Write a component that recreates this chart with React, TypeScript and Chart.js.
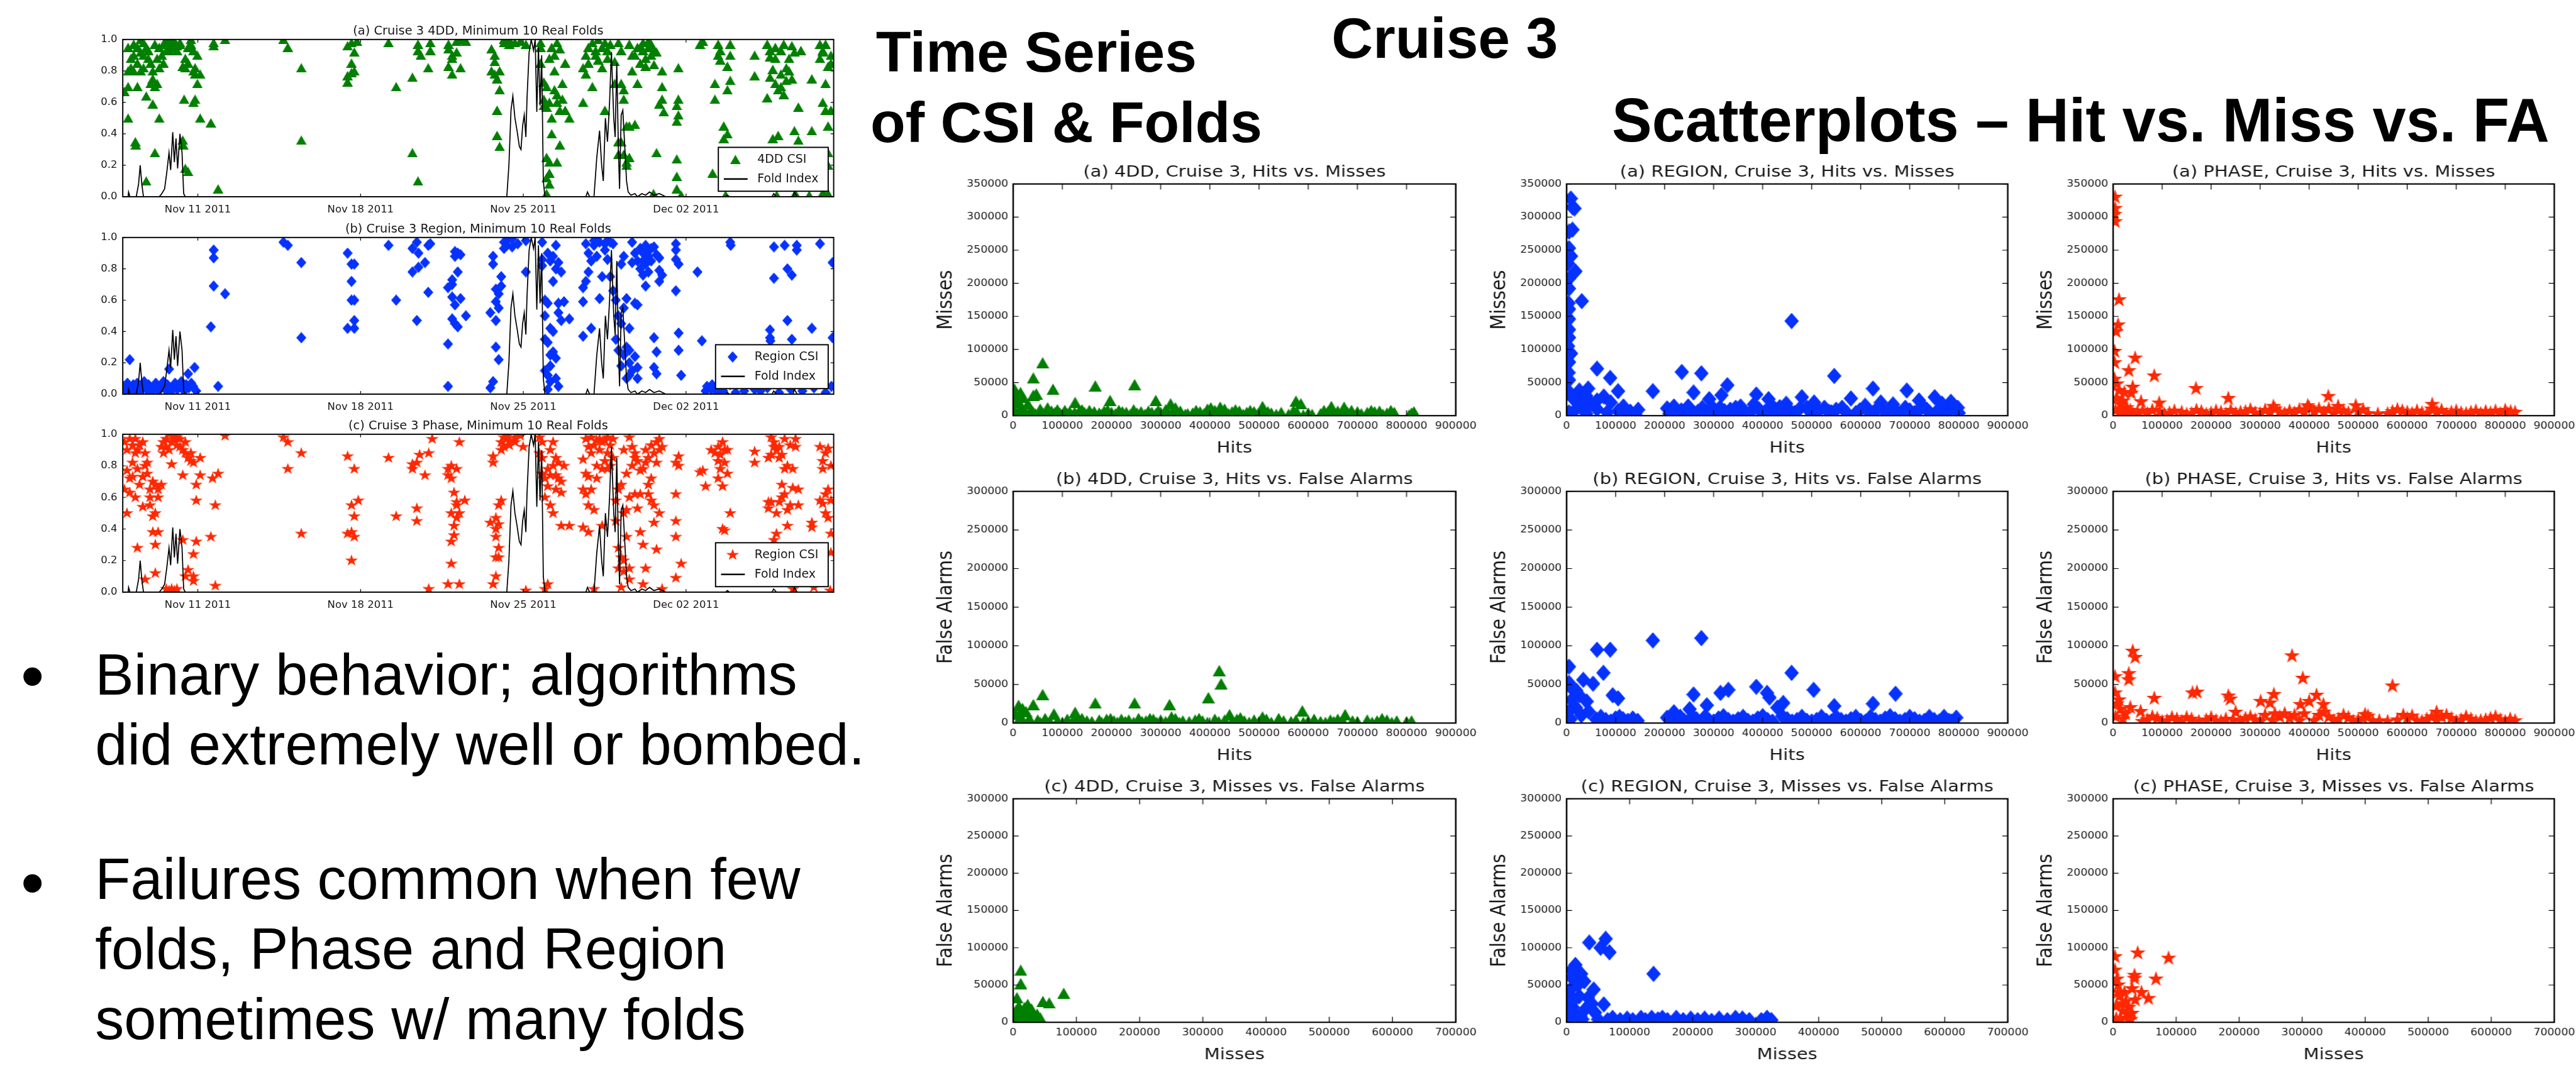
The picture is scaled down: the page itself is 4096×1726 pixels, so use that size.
import React, { useEffect, useRef } from "react";
import { Chart, registerables } from "chart.js";
Chart.register(...registerables);

const K = 4096 / 4223;
const FONT = '"DejaVu Sans", sans-serif';
const SLIDE_FONT = '"Liberation Sans", Arial, sans-serif';
const TEXT = "#161616";

// ---------------- data: time series ----------------
const tsTickDays = [11, 18, 25, 32];
const tsTickLabels = ["Nov 11 2011", "Nov 18 2011", "Nov 25 2011", "Dec 02 2011"];
const tsDayMin = 7.77;
const tsDayMax = 38.35;
const csiTicks = [0, 0.2, 0.4, 0.6, 0.8, 1.0];

const foldIndex: [number, number][] = [
  [7.77,0],[8.0,0],[8.02,0.03],[8.08,0],[8.35,0],[8.45,0.08],[8.52,0.2],[8.59,0.08],[8.66,0],[9.34,0],[9.45,0.02],[9.57,0.05],[9.66,0.15],[9.76,0.28],[9.83,0.17],[9.92,0.41],[9.99,0.22],[10.06,0.37],[10.13,0.18],[10.23,0.4],[10.32,0.28],[10.39,0.02],[10.46,0],
  [24.29,0],[24.38,0.2],[24.47,0.55],[24.55,0.64],[24.64,0.5],[24.73,0.42],[24.83,0.32],[24.9,0.3],[24.97,0.45],[25.04,0.52],[25.11,0.38],[25.16,0.63],[25.25,0.92],[25.34,1.0],[25.44,0.93],[25.51,1.0],[25.58,0.54],[25.65,0.95],[25.72,0.58],[25.79,0.9],[25.86,0.1],[25.93,0],
  [27.69,0],[27.76,0.03],[27.85,0],[28.04,0],[28.16,0.25],[28.28,0.42],[28.37,0.2],[28.44,0.1],[28.53,0.5],[28.62,0.35],[28.71,0.6],[28.79,0.92],[28.89,0.5],[28.95,0.38],[29.02,0.85],[29.09,0.3],[29.14,0.05],[29.21,0.52],[29.28,0.55],[29.37,0.3],[29.44,0.1],[29.51,0.03],[29.63,0.01],[29.8,0.02],[29.91,0],[30.1,0.02],[30.26,0.01],[30.43,0.03],[30.62,0.01],[30.85,0.02],[31.13,0],
  [33.7,0],[33.78,0.01],[33.86,0],[35.7,0],[35.77,0.02],[35.89,0],[36.6,0],[36.66,0.03],[36.78,0],[38.35,0],
];

const csi4dd: [number, number][] = [
  [7.84,0.67],[8.0,0.95],[8.0,0.8],[8.0,0.7],[8.0,0.5],[8.12,0.88],[8.12,0.82],[8.24,0.97],[8.24,0.9],[8.24,0.8],[8.31,0.35],[8.33,0.33],[8.4,0.7],[8.4,0.85],[8.4,0.95],[8.54,0.92],[8.54,0.8],[8.54,1.0],[8.66,0.9],[8.66,0.98],[8.66,0.82],[8.78,0.1],[8.78,0.64],[8.78,0.95],[8.87,0.88],[8.87,0.93],[8.97,0.85],[8.97,0.72],[9.06,0.59],[9.06,0.75],[9.06,0.8],[9.15,0.28],[9.15,0.97],[9.15,0.7],[9.25,0.72],[9.25,0.88],[9.34,0.5],[9.34,0.95],[9.34,0.82],[9.45,0.9],[9.52,0.97],[9.52,0.85],[9.64,0.93],[9.64,1.0],[9.76,0.98],[9.76,0.93],[9.87,0.96],[9.87,1.0],[9.99,0.95],[9.99,0.99],[10.1,0.96],[10.1,0.93],[10.23,0.97],[10.23,0.98],[10.35,0.83],[10.35,0.36],[10.37,0.33],[10.41,0.62],[10.46,0.88],[10.46,0.82],[10.46,0.18],[10.58,0.95],[10.58,0.85],[10.58,0.16],[10.7,0.97],[10.7,1.0],[10.81,0.8],[10.81,0.6],[10.81,0.93],[10.88,0.78],[10.88,0.82],[10.88,0.62],[10.98,0.72],[10.98,0.9],[11.1,0.5],[11.1,0.78],[11.56,0.47],[11.68,0.96],[11.68,0.98],[11.87,0.05],[12.17,1.0],
  [14.68,1.0],[14.87,0.95],[15.45,0.82],[15.45,0.36],[17.44,0.96],[17.44,0.73],[17.44,0.77],[17.61,0.98],[17.61,0.79],[17.61,0.85],[17.73,0.8],[17.73,0.92],[17.84,0.99],[19.2,0.98],[19.53,0.7],[20.23,0.76],[20.23,0.28],[20.47,0.97],[20.47,0.93],[20.47,0.1],[20.59,0.9],[20.91,0.82],[21.0,0.98],[21.0,0.93],[21.78,0.97],[21.78,0.83],[21.78,0.94],[21.94,0.78],[21.94,0.88],[21.94,0.9],[22.13,0.92],[22.13,0.99],[22.3,0.82],[22.3,1.0],[22.53,0.99],
  [23.63,0.8],[23.63,0.94],[23.77,0.78],[23.77,0.9],[23.77,0.86],[23.87,0.75],[23.87,0.55],[23.87,0.39],[23.98,0.8],[23.98,0.68],[23.98,0.32],[24.17,0.98],[24.17,1.0],[24.4,0.97],[24.4,1.0],[24.64,0.98],[24.87,0.99],[25.11,0.97],[25.74,0.98],[25.74,0.95],[25.74,0.85],[25.88,0.73],[25.88,0.62],[25.88,0.58],[26.0,0.57],[26.0,0.7],[26.0,0.25],[26.0,0.12],[26.0,0.02],[26.12,0.88],[26.12,0.6],[26.12,0.22],[26.12,0.08],[26.12,0.15],[26.22,0.95],[26.22,0.5],[26.22,0.4],[26.34,0.9],[26.34,0.68],[26.34,0.8],[26.45,0.98],[26.45,0.65],[26.45,0.22],[26.45,0.6],[26.57,0.94],[26.57,0.33],[26.57,0.55],[26.68,0.72],[26.68,0.62],[26.8,0.85],[26.8,0.55],[26.98,0.5],
  [27.57,0.6],[27.57,0.82],[27.69,0.9],[27.69,0.78],[27.8,0.95],[27.8,0.85],[27.97,0.98],[27.97,0.7],[28.11,0.9],[28.11,0.93],[28.22,0.87],[28.22,1.0],[28.39,0.95],[28.39,0.82],[28.51,0.55],[28.51,0.98],[28.62,0.93],[28.62,0.88],[28.74,0.97],[28.93,0.86],[28.93,0.72],[29.09,0.27],[29.09,0.35],[29.09,0.98],[29.21,0.72],[29.21,0.35],[29.21,0.93],[29.32,0.68],[29.32,0.62],[29.32,0.27],[29.44,0.45],[29.44,0.2],[29.44,0.22],[29.56,0.97],[29.56,0.45],[29.56,0.25],[29.68,0.9],[29.68,0.8],[29.8,0.46],[29.8,0.9],[29.91,0.72],[29.91,0.95],[30.03,0.95],[30.03,0.85],[30.15,0.98],[30.15,0.93],[30.26,0.83],[30.26,0.88],[30.38,0.95],[30.38,0.99],[30.5,0.97],[30.5,0.9],[30.62,0.93],[30.62,0.84],[30.73,0.28],[30.73,0.92],[30.85,0.59],[30.97,0.7],[30.97,0.62],[30.97,0.8],[31.04,0.54],[31.6,0.58],[31.6,0.48],[31.6,0.24],[31.6,0.13],[31.6,0.05],[31.67,0.62],[31.67,0.52],[31.67,0.82],[31.79,0.01],
  [32.6,0.97],[32.72,0.99],[33.14,0.15],[33.24,0.62],[33.24,0.72],[33.38,0.97],[33.38,0.9],[33.47,0.93],[33.47,0.87],[33.62,0.45],[33.62,0.37],[33.78,0.68],[33.78,0.4],[33.78,0.83],[33.9,0.9],[33.9,0.97],[33.9,0.74],[34.95,0.77],[34.95,0.9],[35.49,0.97],[35.49,0.63],[35.61,0.93],[35.61,0.89],[35.61,0.76],[35.73,0.81],[35.73,0.37],[35.84,0.88],[35.84,0.95],[35.84,0.72],[35.96,0.68],[35.96,0.39],[36.08,0.93],[36.08,0.78],[36.08,0.7],[36.2,0.97],[36.2,0.65],[36.31,0.82],[36.31,0.74],[36.43,0.88],[36.43,0.8],[36.55,0.96],[36.55,0.75],[36.66,0.92],[36.66,0.42],[36.83,0.36],[36.83,0.57],[36.94,0.93],[37.41,0.75],[37.41,0.42],[37.76,0.97],[37.76,0.88],[37.88,0.92],[37.88,0.93],[37.88,0.6],[38.0,0.72],[38.0,0.55],[38.0,0.97],[38.11,0.45],[38.11,0.83],[38.11,0.28],[38.11,0.2],[38.11,0.02],[38.23,0.9],[38.23,0.55],[38.23,0.85],
  [35.9,0.01],[36.7,0.02],[37.3,0.01],[37.9,0.03],[33.7,0.01],[30.6,0.02],
];

const csiRegion: [number, number][] = [
  [7.82,0.05],[7.9,0.02],[7.97,0.07],[8.07,0.22],[8.08,0.04],[8.16,0.01],[8.22,0.06],[8.31,0.03],[8.39,0.07],[8.5,0.02],[8.58,0.05],[8.69,0.08],[8.78,0.03],[8.88,0.06],[8.98,0.01],[9.1,0.04],[9.19,0.07],[9.31,0.02],[9.4,0.05],[9.52,0.08],[9.6,0.03],[9.69,0.06],[9.76,0.16],[9.81,0.01],[9.9,0.04],[10.02,0.07],[10.11,0.03],[10.2,0.05],[10.29,0.08],[10.41,0.02],[10.5,0.06],[10.58,0.13],[10.61,0.04],[10.72,0.07],[10.8,0.05],[10.86,0.17],[10.93,0.02],
  [11.56,0.43],[11.68,0.87],[11.68,0.92],[11.68,0.69],[11.87,0.05],[12.17,0.64],[14.68,0.97],[14.87,0.95],[15.45,0.84],[15.45,0.36],[17.44,0.9],[17.44,0.42],[17.61,0.72],[17.61,0.6],[17.61,0.83],[17.73,0.6],[17.73,0.47],[17.73,0.42],[17.73,0.83],[19.2,0.95],[19.53,0.6],[20.23,0.93],[20.23,0.78],[20.42,0.47],[20.42,0.97],[20.49,0.9],[20.49,0.81],[20.77,0.84],[20.91,0.65],[20.91,0.95],[21.0,0.96],[21.76,0.32],[21.76,0.05],[21.76,0.68],[21.94,0.7],[21.94,0.73],[21.94,0.48],[21.94,0.62],[22.06,0.91],[22.06,0.57],[22.06,0.45],[22.06,0.88],[22.18,0.78],[22.18,0.43],[22.18,0.9],[22.3,0.61],[22.3,0.89],[22.53,0.5],
  [23.58,0.52],[23.58,0.04],[23.7,0.83],[23.7,0.88],[23.7,0.08],[23.82,0.47],[23.82,0.67],[23.82,0.59],[23.82,0.3],[23.94,0.64],[23.94,0.55],[23.94,0.22],[24.05,0.75],[24.05,0.69],[24.17,0.97],[24.17,0.93],[24.29,0.98],[24.29,0.95],[24.52,0.99],[24.52,0.94],[24.76,0.96],[25.11,0.78],[25.11,0.98],[25.81,0.97],[25.81,0.86],[25.81,0.82],[25.93,0.6],[25.93,0.5],[25.93,0.35],[25.93,0.15],[26.05,0.9],[26.05,0.58],[26.05,0.33],[26.05,0.12],[26.05,0.03],[26.16,0.85],[26.16,0.42],[26.16,0.25],[26.16,0.18],[26.16,0.08],[26.28,0.88],[26.28,0.72],[26.28,0.4],[26.28,0.27],[26.4,0.95],[26.4,0.8],[26.4,0.23],[26.4,0.1],[26.51,0.84],[26.51,0.58],[26.51,0.52],[26.51,0.05],[26.63,0.78],[26.63,0.47],[26.75,0.59],[26.98,0.48],
  [27.57,0.37],[27.57,0.59],[27.57,0.68],[27.69,0.96],[27.69,0.72],[27.8,0.9],[27.8,0.78],[27.92,0.42],[27.92,0.85],[28.04,0.95],[28.04,0.98],[28.16,0.99],[28.16,0.88],[28.28,0.97],[28.28,0.61],[28.39,0.75],[28.51,0.96],[28.51,0.92],[28.62,0.98],[28.62,0.86],[28.74,0.97],[28.74,0.75],[28.86,0.96],[28.86,0.66],[28.98,0.6],[28.98,0.35],[29.09,0.5],[29.09,0.28],[29.21,0.83],[29.21,0.45],[29.21,0.18],[29.32,0.88],[29.32,0.55],[29.32,0.25],[29.44,0.61],[29.44,0.3],[29.44,0.1],[29.56,0.42],[29.56,0.28],[29.56,0.2],[29.56,0.12],[29.68,0.97],[29.68,0.84],[29.68,0.15],[29.8,0.9],[29.8,0.58],[29.8,0.24],[29.91,0.85],[29.91,0.57],[29.91,0.17],[29.91,0.1],[30.03,0.93],[30.03,0.8],[30.15,0.9],[30.15,0.85],[30.15,0.76],[30.26,0.95],[30.26,0.83],[30.26,0.69],[30.38,0.88],[30.38,0.78],[30.38,0.92],[30.5,0.85],[30.5,0.93],[30.62,0.94],[30.62,0.36],[30.62,0.17],[30.73,0.89],[30.73,0.27],[30.73,0.13],[30.85,0.79],[30.85,0.72],[30.85,0.87],[30.97,0.76],[31.56,0.96],[31.56,0.92],[31.56,0.86],[31.56,0.66],[31.68,0.83],[31.68,0.39],[31.68,0.28],[31.79,0.12],
  [32.49,0.78],[32.68,0.34],[32.84,0.02],[32.9,0.05],[33.08,0.03],[33.12,0.06],[33.32,0.04],[33.36,0.01],[33.55,0.05],[33.6,0.02],[33.9,0.97],[33.92,0.95],[33.9,0.06],[34.13,0.01],[34.95,0.03],[35.61,0.41],[35.61,0.36],[35.63,0.34],[35.78,0.94],[35.78,0.74],[36.24,0.95],[36.36,0.47],[36.36,0.8],[36.55,0.76],[36.55,0.35],[36.76,0.95],[36.76,0.92],[37.41,0.42],[37.76,0.96],[38.3,0.84],[38.3,0.36],
  [35.2,0.02],[35.5,0.04],[36.0,0.01],[36.5,0.03],[37.0,0.02],[37.5,0.04],[38.0,0.01],[38.25,0.05],[34.5,0.02],
];

const csiPhase: [number, number][] = [
  [7.84,0.65],[7.84,0.95],[7.95,0.77],[7.95,0.5],[7.95,0.9],[8.07,0.72],[8.07,0.63],[8.07,0.97],[8.19,0.73],[8.19,0.82],[8.19,0.93],[8.31,0.6],[8.31,0.88],[8.31,0.97],[8.4,0.28],[8.4,0.9],[8.4,0.78],[8.49,0.68],[8.49,0.93],[8.63,0.54],[8.63,0.73],[8.63,0.95],[8.73,0.08],[8.73,0.8],[8.73,0.88],[8.82,0.82],[8.82,0.75],[8.94,0.65],[8.94,0.6],[8.94,0.55],[9.06,0.38],[9.06,0.48],[9.06,0.7],[9.17,0.12],[9.17,0.3],[9.17,0.5],[9.17,0.68],[9.29,0.38],[9.29,0.6],[9.29,0.65],[9.43,0.68],[9.43,0.92],[9.52,0.95],[9.52,0.88],[9.64,0.92],[9.64,0.97],[9.64,0.02],[9.76,0.9],[9.76,1.0],[9.76,0.01],[9.87,0.81],[9.87,0.95],[9.87,0.02],[9.99,0.96],[9.99,0.99],[9.99,0.01],[10.1,0.98],[10.1,0.93],[10.1,0.02],[10.23,0.97],[10.23,0.92],[10.35,0.9],[10.35,0.74],[10.35,0.33],[10.46,0.95],[10.46,0.88],[10.46,0.1],[10.58,0.85],[10.58,0.14],[10.7,0.83],[10.7,0.88],[10.81,0.82],[10.81,0.1],[10.81,0.07],[10.81,0.24],[10.93,0.58],[10.93,0.68],[10.93,0.32],[11.1,0.74],[11.1,0.85],[11.56,0.35],[11.63,0.72],[11.75,0.55],[11.75,0.04],[11.87,0.75],[12.17,0.99],
  [14.68,0.98],[14.87,0.95],[14.87,0.78],[15.45,0.88],[15.45,0.37],[17.44,0.86],[17.44,0.37],[17.61,0.55],[17.61,0.2],[17.61,0.38],[17.73,0.78],[17.73,0.48],[17.73,0.35],[17.9,0.58],[19.2,0.85],[19.53,0.48],[20.23,0.81],[20.23,0.78],[20.42,0.53],[20.42,0.45],[20.42,0.82],[20.54,0.87],[20.77,0.74],[20.93,0.88],[20.93,0.02],[21.08,0.97],[21.76,0.78],[21.76,0.74],[21.76,0.05],[21.9,0.5],[21.9,0.8],[21.9,0.72],[21.9,0.18],[21.9,0.32],[22.02,0.63],[22.02,0.42],[22.02,0.36],[22.13,0.78],[22.13,0.55],[22.13,0.47],[22.13,0.57],[22.25,0.05],[22.25,0.5],[22.25,0.95],[22.48,0.58],
  [23.58,0.44],[23.7,0.82],[23.7,0.86],[23.7,0.05],[23.82,0.47],[23.82,0.4],[23.82,0.35],[23.82,0.1],[23.82,0.22],[23.94,0.55],[23.94,0.43],[23.94,0.28],[23.94,0.22],[24.05,0.95],[24.05,0.9],[24.05,0.58],[24.17,0.98],[24.17,0.92],[24.29,0.97],[24.29,0.99],[24.4,0.96],[24.4,0.93],[24.64,0.98],[24.64,0.95],[24.87,0.99],[24.99,0.92],[25.11,0.01],[25.69,0.98],[25.69,0.88],[25.81,0.95],[25.81,0.85],[25.81,0.75],[25.93,0.72],[25.93,0.6],[25.93,0.02],[26.05,0.78],[26.05,0.67],[26.05,0.05],[26.16,0.74],[26.16,0.55],[26.16,0.9],[26.28,0.8],[26.28,0.5],[26.28,0.95],[26.4,0.85],[26.4,0.74],[26.4,0.65],[26.51,0.72],[26.51,0.82],[26.63,0.7],[26.63,0.42],[26.63,0.63],[26.75,0.8],[26.98,0.42],
  [27.57,0.84],[27.57,0.65],[27.57,0.41],[27.69,0.75],[27.69,0.62],[27.69,0.97],[27.8,0.92],[27.8,0.73],[27.8,0.55],[27.8,0.38],[27.92,0.98],[27.92,0.88],[27.92,0.65],[28.04,0.93],[28.04,0.52],[28.04,0.02],[28.16,0.96],[28.16,0.8],[28.16,0.72],[28.28,0.97],[28.28,0.9],[28.39,0.95],[28.39,0.78],[28.39,0.42],[28.51,0.96],[28.51,0.83],[28.62,0.98],[28.62,0.88],[28.62,0.78],[28.74,0.93],[28.74,0.8],[28.86,0.97],[28.86,0.85],[28.98,0.58],[28.98,0.45],[29.09,0.65],[29.09,0.28],[29.09,0.15],[29.21,0.68],[29.21,0.22],[29.21,0.03],[29.32,0.9],[29.32,0.5],[29.32,0.2],[29.32,0.13],[29.44,0.75],[29.44,0.52],[29.44,0.35],[29.56,0.98],[29.56,0.6],[29.56,0.08],[29.56,0.15],[29.68,0.92],[29.68,0.8],[29.8,0.88],[29.8,0.62],[29.8,0.85],[29.91,0.83],[29.91,0.53],[30.03,0.77],[30.03,0.62],[30.03,0.38],[30.15,0.78],[30.15,0.3],[30.15,0.05],[30.26,0.9],[30.26,0.82],[30.26,0.15],[30.38,0.85],[30.38,0.62],[30.38,0.68],[30.5,0.93],[30.5,0.72],[30.5,0.58],[30.62,0.88],[30.62,0.55],[30.62,0.44],[30.73,0.95],[30.73,0.82],[30.73,0.27],[30.85,0.97],[30.85,0.9],[30.85,0.5],[30.97,0.92],[30.97,0.02],[31.56,0.82],[31.56,0.62],[31.56,0.45],[31.56,0.35],[31.56,0.09],[31.68,0.86],[31.68,0.8],[31.79,0.18],
  [32.6,0.76],[32.72,0.77],[32.84,0.67],[33.08,0.9],[33.24,0.88],[33.38,0.92],[33.38,0.83],[33.38,0.72],[33.47,0.87],[33.47,0.78],[33.57,0.95],[33.57,0.67],[33.57,0.4],[33.66,0.82],[33.66,0.9],[33.66,0.39],[33.78,0.9],[33.78,0.75],[33.9,0.5],[34.95,0.82],[34.95,0.89],[35.54,0.57],[35.54,0.53],[35.54,0.85],[35.66,0.98],[35.66,0.87],[35.66,0.57],[35.78,0.95],[35.78,0.92],[35.78,0.33],[35.89,0.9],[35.89,0.37],[35.89,0.5],[36.01,0.92],[36.01,0.85],[36.01,0.57],[36.12,0.68],[36.12,0.6],[36.12,0.87],[36.24,0.97],[36.24,0.62],[36.24,0.78],[36.36,0.8],[36.36,0.52],[36.36,0.42],[36.48,0.93],[36.48,0.55],[36.59,0.78],[36.59,0.66],[36.71,0.97],[36.71,0.92],[36.83,0.65],[36.83,0.55],[37.41,0.44],[37.41,0.41],[37.76,0.58],[37.76,0.92],[37.88,0.83],[37.88,0.56],[37.88,0.78],[38.0,0.88],[38.0,0.62],[38.0,0.5],[38.11,0.91],[38.11,0.65],[38.11,0.47],[38.23,0.8],[38.23,0.58],[38.23,0.37],[38.23,0.25],[36.6,0.02],[37.5,0.03],[38.2,0.01],
];

// ---------------- data: scatterplots ----------------
const hitsMiss4dd: [number, number][] = [
  [60000,80000],[41000,57000],[81000,40000],[167000,45000],[247000,47000],[197000,23000],[290000,23000],[15000,35000],[47000,33000],[41000,31000],[126000,20000],[320000,18000],[575000,22000],[585000,18000],[647000,14000],[673000,13000],[507000,14000],[402000,12000],[421000,13000],
  [3000,40000],[6000,30000],[10000,20000],[2000,10000],[20000,28000],[15000,5000],[8000,25000],[12000,8000],[18000,12000],[25000,5000],[30000,18000],[35000,8000],
  [45000,3000],[55000,10000],[70000,12000],[85000,5000],[95000,4000],[105000,8000],[115000,6000],[135000,8000],[145000,5000],[155000,8000],[175000,4000],[185000,7000],[200000,5000],[215000,8000],[230000,5000],[245000,9000],[260000,6000],[275000,7000],[300000,5000],[310000,9000],[330000,12000],[340000,7000],[365000,4000],[380000,6000],[395000,10000],[410000,8000],[430000,10000],[445000,6000],[460000,7000],[475000,5000],[490000,6000],[510000,8000],[525000,4000],[545000,5000],[570000,8000],[600000,4000],[625000,3000],[640000,6000],[660000,7000],[680000,5000],[700000,6000],[720000,5000],[735000,6000],[745000,7000],[760000,4000],[775000,5000],[810000,4000],
  [100000,2000],[160000,2000],[220000,1000],[290000,3000],[350000,2000],[420000,3000],[480000,1000],[560000,2000],[590000,1000],[650000,1000],[690000,2000],[730000,1000],
  [20000,3000],[40000,6000],[60000,4000],[78000,7000],[90000,9000],[110000,3000],[125000,5000],[140000,9000],[150000,2000],[165000,6000],[180000,2000],[192000,9000],[208000,3000],[222000,6000],[238000,2000],[252000,4000],[268000,2000],[282000,5000],[295000,8000],[318000,3000],[325000,6000],[335000,2000],[355000,3000],[372000,8000],[388000,3000],[402000,5000],[415000,2000],[425000,6000],[438000,3000],[452000,9000],[468000,2000],[482000,8000],[498000,3000],[518000,6000],[535000,2000],[578000,4000],[608000,2000],[632000,8000],[652000,4000],[668000,3000],[688000,8000],[708000,3000],[728000,8000],[752000,2000],[768000,8000],[805000,1000],[815000,6000],
];
const hitsMissRegion: [number, number][] = [
  [8600,328000],[12000,315000],[16000,313000],[12000,281000],[5000,278000],[5000,253000],[9000,241000],[18000,218000],[5000,207000],[5000,192000],[31000,173000],[5000,161000],[5000,146000],[5000,130000],[5000,118000],[9000,94000],[5000,81000],[5000,54000],[3000,230000],[4000,170000],[3000,105000],[4000,65000],
  [459000,143000],[62000,71000],[89000,57000],[235000,66000],[275000,64000],[546000,60000],[328000,46000],[176000,37000],[259000,35000],[105000,37000],[625000,41000],[694000,38000],[387000,32000],[316000,31000],[580000,26000],[784000,21000],[751000,28000],[719000,23000],[480000,28000],[291000,25000],[412000,25000],
  [44000,41000],[26000,38000],[76000,29000],[116000,14000],[146000,9000],[205000,11000],[219000,14000],[248000,14000],[277000,12000],[313000,12000],[355000,14000],[382000,17000],[419000,15000],[448000,18000],[505000,20000],[526000,12000],[562000,12000],[609000,15000],[641000,20000],[666000,17000],[691000,12000],[726000,15000],[798000,12000],[766000,18000],[634000,11000],[476000,11000],[419000,9000],[334000,9000],[291000,8000],[234000,8000],
  [5000,5000],[19000,10000],[40000,3000],[62000,10000],[83000,5000],[105000,7000],[19000,27000],[40000,30000],[62000,23000],[5000,36000],[12000,27000],[30000,15000],[50000,18000],[90000,20000],[120000,4000],
  [210000,3000],[260000,4000],[300000,2000],[350000,4000],[400000,3000],[440000,5000],[500000,3000],[540000,5000],[590000,4000],[620000,3000],[650000,5000],[680000,3000],[710000,4000],[740000,5000],[770000,3000],[800000,4000],
  [130000,6000],[140000,2000],[215000,6000],[225000,3000],[245000,8000],[255000,3000],[268000,6000],[283000,3000],[296000,14000],[305000,5000],[322000,7000],[340000,3000],[345000,12000],[362000,7000],[372000,3000],[392000,10000],[405000,6000],[428000,8000],[435000,13000],[455000,8000],[465000,4000],[490000,12000],[497000,6000],[515000,8000],[535000,6000],[550000,9000],[572000,4000],[598000,8000],[615000,9000],[628000,5000],[658000,9000],[673000,6000],[700000,8000],[718000,7000],[735000,9000],[757000,8000],[780000,7000],[790000,15000],
];
const hitsMissPhase: [number, number][] = [
  [4000,330000],[4000,313000],[3000,304000],[4000,293000],[12000,175000],[10000,137000],[6000,127000],[3000,97000],[3000,80000],[45000,87000],[32000,68000],[84000,60000],[169000,41000],[40000,43000],[37000,34000],[57000,21000],[94000,19000],[235000,26000],[439000,29000],[495000,15000],[651000,17000],[327000,14000],[397000,15000],[459000,14000],[800000,8000],[811000,6000],
  [8000,48000],[12000,38000],[23000,35000],[8000,26000],[15000,17000],[3000,55000],[20000,22000],[28000,12000],[5000,8000],[18000,5000],[35000,8000],
  [50000,5000],[70000,3000],[95000,6000],[115000,4000],[140000,5000],[160000,3000],[180000,6000],[200000,4000],[220000,5000],[250000,3000],[270000,6000],[290000,4000],[310000,8000],[340000,5000],[360000,7000],[380000,9000],[410000,6000],[420000,10000],[470000,7000],[480000,4000],[520000,3000],[540000,2000],[570000,6000],[590000,7000],[610000,3000],[630000,4000],[670000,8000],[690000,5000],[710000,4000],[730000,5000],[750000,3000],[770000,4000],[790000,3000],[820000,5000],
  [60000,7000],[80000,8000],[105000,2000],[125000,7000],[150000,2000],[170000,8000],[190000,2000],[210000,7000],[230000,2000],[240000,8000],[260000,5000],[280000,9000],[300000,3000],[320000,5000],[330000,10000],[350000,3000],[370000,4000],[390000,5000],[400000,12000],[430000,5000],[440000,10000],[450000,3000],[460000,8000],[500000,6000],[510000,9000],[560000,3000],[580000,9000],[600000,5000],[620000,7000],[640000,2000],[650000,10000],[660000,5000],[680000,2000],[700000,7000],[720000,3000],[740000,7000],[760000,6000],[780000,7000],[805000,3000],[15000,2000],[25000,3000],[40000,2000],
];
const hitsFa4dd: [number, number][] = [
  [419000,68000],[423000,51000],[397000,33000],[60000,37000],[41000,24000],[167000,26000],[247000,26000],[318000,24000],[588000,16000],[126000,14000],[83000,12000],[440000,11000],[675000,11000],[507000,8000],[11000,23000],[19000,19000],[26000,15000],[5000,12000],[15000,8000],[33000,6000],
  [50000,4000],[65000,6000],[90000,3000],[110000,5000],[140000,6000],[150000,3000],[175000,4000],[190000,5000],[205000,3000],[220000,5000],[235000,4000],[255000,6000],[270000,3000],[285000,5000],[300000,4000],[330000,6000],[345000,3000],[370000,4000],[385000,3000],[410000,5000],[430000,4000],[455000,5000],[470000,3000],[490000,4000],[515000,5000],[550000,3000],[575000,4000],[600000,3000],[625000,2000],[645000,4000],[660000,5000],[690000,3000],[720000,4000],[740000,3000],[760000,4000],[780000,3000],[810000,3000],
  [20000,3000],[35000,2000],[55000,1000],[75000,2000],[100000,1000],[120000,2000],[130000,7000],[160000,2000],[180000,1000],[198000,6000],[212000,1000],[228000,2000],[245000,1000],[262000,2000],[278000,6000],[292000,1000],[310000,2000],[322000,8000],[338000,1000],[358000,2000],[378000,6000],[395000,1000],[418000,2000],[445000,2000],[462000,7000],[480000,1000],[500000,2000],[525000,1000],[540000,6000],[565000,2000],[590000,1000],[612000,5000],[635000,1000],[652000,2000],[672000,1000],[700000,2000],[730000,1000],[750000,6000],[770000,1000],[800000,2000],
];
const hitsFaRegion: [number, number][] = [
  [275000,110000],[176000,107000],[62000,95000],[89000,95000],[5000,73000],[75000,65000],[459000,65000],[34000,56000],[54000,51000],[387000,47000],[504000,43000],[330000,43000],[314000,39000],[259000,37000],[409000,39000],[671000,38000],[94000,36000],[105000,32000],[414000,33000],[442000,26000],[625000,25000],[286000,23000],[546000,22000],[251000,18000],[219000,14000],[430000,20000],
  [5000,52000],[12000,44000],[26000,36000],[41000,28000],[19000,20000],[5000,15000],[30000,10000],[10000,30000],[45000,15000],[8000,5000],[20000,42000],
  [60000,5000],[80000,4000],[100000,6000],[115000,5000],[145000,3000],[210000,4000],[225000,6000],[240000,3000],[265000,5000],[290000,4000],[310000,6000],[330000,4000],[350000,5000],[370000,3000],[390000,6000],[410000,4000],[450000,5000],[470000,4000],[490000,3000],[510000,4000],[530000,3000],[560000,4000],[580000,5000],[600000,3000],[630000,4000],[650000,6000],[670000,5000],[690000,4000],[710000,5000],[730000,3000],[750000,4000],[780000,3000],[795000,7000],
  [70000,8000],[90000,2000],[108000,8000],[125000,3000],[135000,6000],[205000,7000],[218000,2000],[232000,8000],[248000,2000],[258000,8000],[275000,2000],[282000,8000],[300000,2000],[320000,9000],[340000,2000],[360000,8000],[380000,2000],[400000,9000],[420000,2000],[440000,9000],[460000,2000],[480000,8000],[500000,2000],[520000,8000],[540000,2000],[550000,8000],[570000,2000],[590000,8000],[610000,2000],[620000,8000],[640000,2000],[660000,9000],[680000,2000],[700000,8000],[720000,2000],[740000,8000],[760000,2000],[770000,8000],[785000,2000],
];
const hitsFaPhase: [number, number][] = [
  [40000,93000],[45000,85000],[365000,87000],[32000,64000],[32000,56000],[4000,60000],[387000,58000],[570000,48000],[171000,40000],[162000,39000],[328000,37000],[415000,36000],[235000,35000],[239000,31000],[84000,32000],[301000,28000],[320000,26000],[400000,28000],[382000,24000],[429000,24000],[4000,39000],[56000,15000],[250000,14000],[660000,14000],[514000,11000],[592000,10000],[543000,3000],
  [8000,25000],[15000,18000],[25000,12000],[5000,8000],[20000,5000],[35000,20000],[12000,30000],
  [70000,4000],[90000,6000],[110000,3000],[130000,5000],[150000,7000],[190000,4000],[210000,3000],[230000,5000],[270000,6000],[290000,4000],[340000,8000],[350000,12000],[360000,6000],[420000,10000],[440000,8000],[460000,5000],[480000,7000],[500000,4000],[600000,6000],[620000,3000],[640000,5000],[670000,8000],[690000,6000],[710000,4000],[730000,5000],[750000,3000],[770000,6000],[790000,4000],[810000,5000],[820000,3000],
  [60000,2000],[80000,8000],[100000,2000],[120000,7000],[140000,2000],[160000,5000],[175000,2000],[200000,7000],[220000,2000],[245000,4000],[260000,2000],[280000,8000],[300000,2000],[310000,10000],[325000,4000],[330000,12000],[370000,10000],[380000,3000],[390000,12000],[410000,3000],[430000,14000],[450000,3000],[470000,10000],[490000,2000],[510000,6000],[520000,9000],[530000,2000],[560000,2000],[580000,4000],[610000,9000],[630000,2000],[650000,8000],[660000,3000],[680000,10000],[700000,2000],[720000,8000],[740000,2000],[760000,4000],[780000,8000],[800000,2000],
];
const missFa4dd: [number, number][] = [
  [12000,70000],[12000,52000],[80000,39000],[47000,28000],[57000,26000],[6000,33000],[23000,24000],[29000,18000],[38000,11000],[43000,6000],[9000,22000],[15000,14000],[20000,9000],[3000,6000],[9000,3000],[26000,3000],[32000,6000],[18000,20000],
  [4000,15000],[14000,2000],[22000,14000],[35000,2000],[28000,8000],
];
const missFaRegion: [number, number][] = [
  [62000,112000],[36000,107000],[54000,100000],[68000,94000],[138000,65000],[14000,77000],[23000,65000],[28000,55000],[43000,44000],[34000,33000],[59000,24000],[45000,13000],[6000,44000],[4000,30000],[10000,20000],[20000,35000],[15000,10000],[30000,18000],[8000,60000],[5000,5000],[25000,4000],
  [73000,6000],[96000,5000],[118000,6000],[135000,6000],[152000,6000],[174000,6000],[197000,5000],[219000,5000],[242000,5000],[279000,5000],[318000,6000],[309000,3000],[85000,3000],[160000,3000],[230000,2000],
  [5000,15000],[12000,30000],[18000,50000],[8000,70000],[22000,8000],[40000,25000],[50000,4000],[65000,3000],[105000,3000],[125000,3000],[145000,4000],[185000,3000],[208000,3000],[255000,3000],[268000,6000],[290000,3000],[325000,3000],
];
const missFaPhase: [number, number][] = [
  [39000,93000],[88000,86000],[3000,88000],[34000,63000],[68000,58000],[34000,59000],[6000,58000],[45000,40000],[56000,32000],[8000,50000],[10000,35000],[20000,28000],[25000,20000],[30000,12000],[15000,15000],[5000,22000],[12000,5000],[28000,4000],[18000,40000],[35000,30000],
  [5000,5000],[15000,25000],[22000,12000],[8000,40000],[3000,70000],[30000,45000],[25000,2000],
];

// ---------------- styling / layout ----------------
const GREEN = "#007f00";
const BLUE = "#0632ff";
const RED = "#ff2800";

type Marker = { shape: string; w: number; h: number; color: string };
type Spec = {
  kind: "ts" | "sc";
  plot: [number, number, number, number];
  title: string;
  xLabel?: string;
  yLabel?: string;
  points: [number, number][];
  marker: Marker;
  line?: [number, number][];
  legend?: [string, string];
  xMax?: number;
  yMax?: number;
};

const TS_L = { sx: 1, yAxisW: 60, padR: 20, padT: 40, xAxisH: 32, tick: 5, frame: 2, tickFont: 17, tickPadX: 11, tickPadY: 9, titleSize: 20, titleGap: 8 };
const SC_L = { sx: 1.15, yAxisW: 135, padR: 50, padT: 45, xAxisH: 75, tick: 9, frame: 2.2, tickFont: 15.5, tickPadX: 8, tickPadY: 8, titleSize: 26, titleGap: 12, xLabelSize: 26, xLabelGap: 61, yLabelSize: 29.5, yLabelGap: 110 };

function makeMarker(m: Marker, sx: number): HTMLCanvasElement {
  const w = (m.w * K) / sx;
  const h = m.h * K;
  const c = document.createElement("canvas");
  const g = () => c.getContext("2d") as CanvasRenderingContext2D;
  if (m.shape === "star") {
    const rx = w / 1.902;
    const ry = h / 1.809;
    c.width = Math.max(2, Math.round(w));
    c.height = Math.max(2, Math.round(2 * ry));
    const ctx = g();
    const cx = c.width / 2, cy = c.height / 2;
    ctx.fillStyle = m.color;
    ctx.beginPath();
    for (let i = 0; i < 10; i++) {
      const ang = -Math.PI / 2 + (i * Math.PI) / 5;
      const r = i % 2 === 0 ? 1 : 0.381966;
      const px = cx + Math.cos(ang) * rx * r;
      const py = cy + Math.sin(ang) * ry * r;
      if (i === 0) ctx.moveTo(px, py); else ctx.lineTo(px, py);
    }
    ctx.closePath();
    ctx.fill();
    return c;
  }
  c.width = Math.max(2, Math.round(w));
  c.height = Math.max(2, Math.round(h));
  const ctx = g();
  const W = c.width, H = c.height;
  ctx.fillStyle = m.color;
  ctx.beginPath();
  if (m.shape === "tri") {
    ctx.moveTo(W / 2, 0); ctx.lineTo(W, H); ctx.lineTo(0, H);
  } else {
    ctx.moveTo(W / 2, 0); ctx.lineTo(W, H / 2); ctx.lineTo(W / 2, H); ctx.lineTo(0, H / 2);
  }
  ctx.closePath();
  ctx.fill();
  return c;
}

function makeDecor(spec: Spec, L: any, mk: HTMLCanvasElement) {
  const S = L.sx;
  return {
    id: "decor",
    afterDraw(chart: any) {
      const ctx = chart.ctx as CanvasRenderingContext2D;
      const a = chart.chartArea;
      const xs = chart.scales.x, ys = chart.scales.y;
      ctx.save();
      ctx.strokeStyle = "#000";
      ctx.lineWidth = 1.2 * K;
      ctx.beginPath();
      const tl = L.tick * K;
      for (const t of xs.ticks) {
        const p = xs.getPixelForValue(t.value);
        ctx.moveTo(p, a.bottom); ctx.lineTo(p, a.bottom - tl);
        ctx.moveTo(p, a.top); ctx.lineTo(p, a.top + tl);
      }
      for (const t of ys.ticks) {
        const p = ys.getPixelForValue(t.value);
        ctx.moveTo(a.left, p); ctx.lineTo(a.left + tl / S, p);
        ctx.moveTo(a.right, p); ctx.lineTo(a.right - tl / S, p);
      }
      ctx.stroke();
      ctx.lineWidth = L.frame * K;
      ctx.strokeRect(a.left, a.top, a.right - a.left, a.bottom - a.top);

      const cx = (a.left + a.right) / 2;
      ctx.fillStyle = TEXT;
      ctx.textAlign = "center";
      ctx.textBaseline = "alphabetic";
      ctx.font = `${L.titleSize * K}px ${FONT}`;
      ctx.fillText(spec.title, cx, a.top - L.titleGap * K);
      if (spec.xLabel) {
        ctx.font = `${L.xLabelSize * K}px ${FONT}`;
        ctx.fillText(spec.xLabel, cx, a.bottom + L.xLabelGap * K);
      }
      if (spec.yLabel) {
        ctx.save();
        ctx.translate(a.left - (L.yLabelGap * K) / S, (a.top + a.bottom) / 2);
        ctx.rotate(-Math.PI / 2);
        ctx.textBaseline = "middle";
        ctx.font = `${L.yLabelSize * K}px ${FONT}`;
        ctx.fillText(spec.yLabel, 0, 0);
        ctx.restore();
      }
      if (spec.legend) {
        ctx.font = `${19.5 * K}px ${FONT}`;
        const tw = Math.max(ctx.measureText(spec.legend[0]).width, ctx.measureText(spec.legend[1]).width);
        const bw = 64 * K + tw + 16 * K;
        const bh = 72 * K;
        const bx = a.right - 9 * K - bw;
        const by = a.bottom - 9 * K - bh;
        ctx.fillStyle = "#fff";
        ctx.fillRect(bx, by, bw, bh);
        ctx.lineWidth = 2 * K;
        ctx.strokeStyle = "#000";
        ctx.strokeRect(bx, by, bw, bh);
        const r1 = by + 20 * K, r2 = by + 52 * K;
        ctx.drawImage(mk, bx + 28 * K - mk.width / 2, r1 - mk.height / 2);
        ctx.beginPath();
        ctx.lineWidth = 2.5 * K;
        ctx.moveTo(bx + 9 * K, r2); ctx.lineTo(bx + 48 * K, r2);
        ctx.stroke();
        ctx.fillStyle = TEXT;
        ctx.textAlign = "left";
        ctx.textBaseline = "middle";
        ctx.fillText(spec.legend[0], bx + 64 * K, r1);
        ctx.fillText(spec.legend[1], bx + 64 * K, r2);
      }
      ctx.restore();
    },
  };
}

function buildConfig(spec: Spec, L: any, mk: HTMLCanvasElement): any {
  const S = L.sx;
  const isTs = spec.kind === "ts";
  const tickFont = { family: FONT, size: L.tickFont * K };
  const datasets: any[] = [];
  if (spec.line) {
    datasets.push({
      data: spec.line.map(([x, y]) => ({ x, y })),
      showLine: true, borderColor: "#000", borderWidth: 1.8 * K,
      pointRadius: 0, pointHoverRadius: 0, order: 0,
    });
  }
  datasets.push({
    data: spec.points.map(([x, y]) => ({ x, y })),
    showLine: false, pointStyle: mk, pointRadius: 6, pointHoverRadius: 6, order: 1,
  });
  const common = { grid: { display: false, drawTicks: false }, border: { display: false } };
  const xScale: any = isTs
    ? {
        ...common, type: "linear", min: tsDayMin, max: tsDayMax,
        afterBuildTicks: (s: any) => { s.ticks = tsTickDays.map((v) => ({ value: v })); },
        ticks: {
          autoSkip: false, maxRotation: 0, minRotation: 0, padding: L.tickPadX * K, font: tickFont, color: TEXT,
          callback: (v: number) => { const i = tsTickDays.indexOf(v); return i >= 0 ? tsTickLabels[i] : ""; },
        },
        afterFit: (s: any) => { s.height = L.xAxisH * K; },
      }
    : {
        ...common, type: "linear", min: 0, max: spec.xMax,
        ticks: { stepSize: 100000, autoSkip: false, maxRotation: 0, minRotation: 0, padding: L.tickPadX * K, font: tickFont, color: TEXT, callback: (v: number) => String(v) },
        afterFit: (s: any) => { s.height = L.xAxisH * K; },
      };
  const yScale: any = isTs
    ? {
        ...common, type: "linear", min: 0, max: 1,
        afterBuildTicks: (s: any) => { s.ticks = csiTicks.map((v) => ({ value: v })); },
        ticks: { padding: (L.tickPadY * K) / S, font: tickFont, color: TEXT, callback: (v: number) => Number(v).toFixed(1) },
        afterFit: (s: any) => { s.width = (L.yAxisW * K) / S; },
      }
    : {
        ...common, type: "linear", min: 0, max: spec.yMax,
        ticks: { stepSize: 50000, autoSkip: false, padding: (L.tickPadY * K) / S, font: tickFont, color: TEXT, callback: (v: number) => String(v) },
        afterFit: (s: any) => { s.width = (L.yAxisW * K) / S; },
      };
  return {
    type: "scatter",
    data: { datasets },
    options: {
      responsive: false,
      animation: false,
      devicePixelRatio: 1,
      events: [],
      layout: { padding: { left: 0, top: L.padT * K, right: (L.padR * K) / S, bottom: 0 } },
      plugins: { legend: { display: false }, tooltip: { enabled: false }, title: { display: false } },
      scales: { x: xScale, y: yScale },
    },
    plugins: [makeDecor(spec, L, mk)],
  };
}

function Panel({ spec }: { spec: Spec }) {
  const ref = useRef<HTMLCanvasElement>(null);
  const L: any = spec.kind === "ts" ? TS_L : SC_L;
  const [x0, y0, x1, y1] = spec.plot;
  const S = L.sx;
  const left = (x0 - L.yAxisW) * K;
  const top = (y0 - L.padT) * K;
  const wFinal = (x1 - x0 + L.yAxisW + L.padR) * K;
  const h = Math.round((y1 - y0 + L.padT + L.xAxisH) * K);
  const w = Math.round(wFinal / S);
  useEffect(() => {
    const mk = makeMarker(spec.marker, S);
    const chart = new Chart(ref.current as HTMLCanvasElement, buildConfig(spec, L, mk));
    return () => chart.destroy();
  }, []);
  return (
    <div style={{ position: "absolute", left, top, width: w, height: h, transform: `scaleX(${S})`, transformOrigin: "0 0" }}>
      <canvas ref={ref} width={w} height={h} />
    </div>
  );
}

function SlideText({ x, baseline, size, bold, sx, children }: any) {
  return (
    <div style={{ position: "absolute", left: x * K, top: (baseline - 0.8465 * size) * K, fontSize: size * K, lineHeight: 1, fontWeight: bold ? 700 : 400, fontFamily: SLIDE_FONT, whiteSpace: "nowrap", color: "#000", transform: sx ? `scaleX(${sx})` : undefined, transformOrigin: "0 0" }}>
      {children}
    </div>
  );
}

const tsMarkerTri: Marker = { shape: "tri", w: 18, h: 15, color: GREEN };
const tsMarkerDia: Marker = { shape: "dia", w: 17, h: 19, color: BLUE };
const tsMarkerStar: Marker = { shape: "star", w: 21, h: 18, color: RED };
const scMarkerTri: Marker = { shape: "tri", w: 21, h: 19, color: GREEN };
const scMarkerDia: Marker = { shape: "dia", w: 24, h: 27, color: BLUE };
const scMarkerStar: Marker = { shape: "star", w: 26, h: 24, color: RED };

const cols: [number, number][] = [[1661, 2386], [2568, 3291], [3464, 4187]];
const rows: [number, number][] = [[302, 682], [806, 1186], [1310, 1677]];
const algs = ["4DD", "REGION", "PHASE"];
const scMarkers = [scMarkerTri, scMarkerDia, scMarkerStar];
const scData = [
  [hitsMiss4dd, hitsMissRegion, hitsMissPhase],
  [hitsFa4dd, hitsFaRegion, hitsFaPhase],
  [missFa4dd, missFaRegion, missFaPhase],
];
const rowInfo = [
  { tag: "(a)", what: "Hits vs. Misses", xLabel: "Hits", yLabel: "Misses", xMax: 900000, yMax: 350000 },
  { tag: "(b)", what: "Hits vs. False Alarms", xLabel: "Hits", yLabel: "False Alarms", xMax: 900000, yMax: 300000 },
  { tag: "(c)", what: "Misses vs. False Alarms", xLabel: "Misses", yLabel: "False Alarms", xMax: 700000, yMax: 300000 },
];

const specs: Spec[] = [
  { kind: "ts", plot: [201, 65, 1366, 323], title: "(a) Cruise 3 4DD, Minimum 10 Real Folds", points: csi4dd, marker: tsMarkerTri, line: foldIndex, legend: ["4DD CSI", "Fold Index"] },
  { kind: "ts", plot: [201, 390, 1366, 647], title: "(b) Cruise 3 Region, Minimum 10 Real Folds", points: csiRegion, marker: tsMarkerDia, line: foldIndex, legend: ["Region CSI", "Fold Index"] },
  { kind: "ts", plot: [201, 712, 1366, 971], title: "(c) Cruise 3 Phase, Minimum 10 Real Folds", points: csiPhase, marker: tsMarkerStar, line: foldIndex, legend: ["Region CSI", "Fold Index"] },
];
rows.forEach((r, ri) => {
  cols.forEach((c, ci) => {
    const info = rowInfo[ri];
    specs.push({
      kind: "sc",
      plot: [c[0], r[0], c[1], r[1]],
      title: `${info.tag} ${algs[ci]}, Cruise 3, ${info.what}`,
      xLabel: info.xLabel,
      yLabel: info.yLabel,
      points: scData[ri][ci],
      marker: scMarkers[ci],
      xMax: info.xMax,
      yMax: info.yMax,
    });
  });
});

export default function App() {
  return (
    <div style={{ position: "fixed", left: 0, top: 0, width: 4096, height: 1726, overflow: "hidden", background: "#fff" }}>
      {specs.map((s, i) => (
        <Panel key={i} spec={s} />
      ))}
      <SlideText x={1436} baseline={118} size={94} bold>Time Series</SlideText>
      <SlideText x={1427} baseline={233} size={94} bold>of CSI &amp; Folds</SlideText>
      <SlideText x={2183} baseline={95} size={94} bold>Cruise 3</SlideText>
      <SlideText x={2642} baseline={233} size={102} bold sx={0.965}>Scatterplots – Hit vs. Miss vs. FA</SlideText>

      <SlideText x={34} baseline={1147} size={110}>•</SlideText>
      <SlideText x={156} baseline={1140} size={95}>Binary behavior; algorithms</SlideText>
      <SlideText x={156} baseline={1255} size={95}>did extremely well or bombed.</SlideText>
      <SlideText x={34} baseline={1486} size={110}>•</SlideText>
      <SlideText x={156} baseline={1475} size={95}>Failures common when few</SlideText>
      <SlideText x={156} baseline={1590} size={95}>folds, Phase and Region</SlideText>
      <SlideText x={156} baseline={1705} size={95}>sometimes w/ many folds</SlideText>
    </div>
  );
}
